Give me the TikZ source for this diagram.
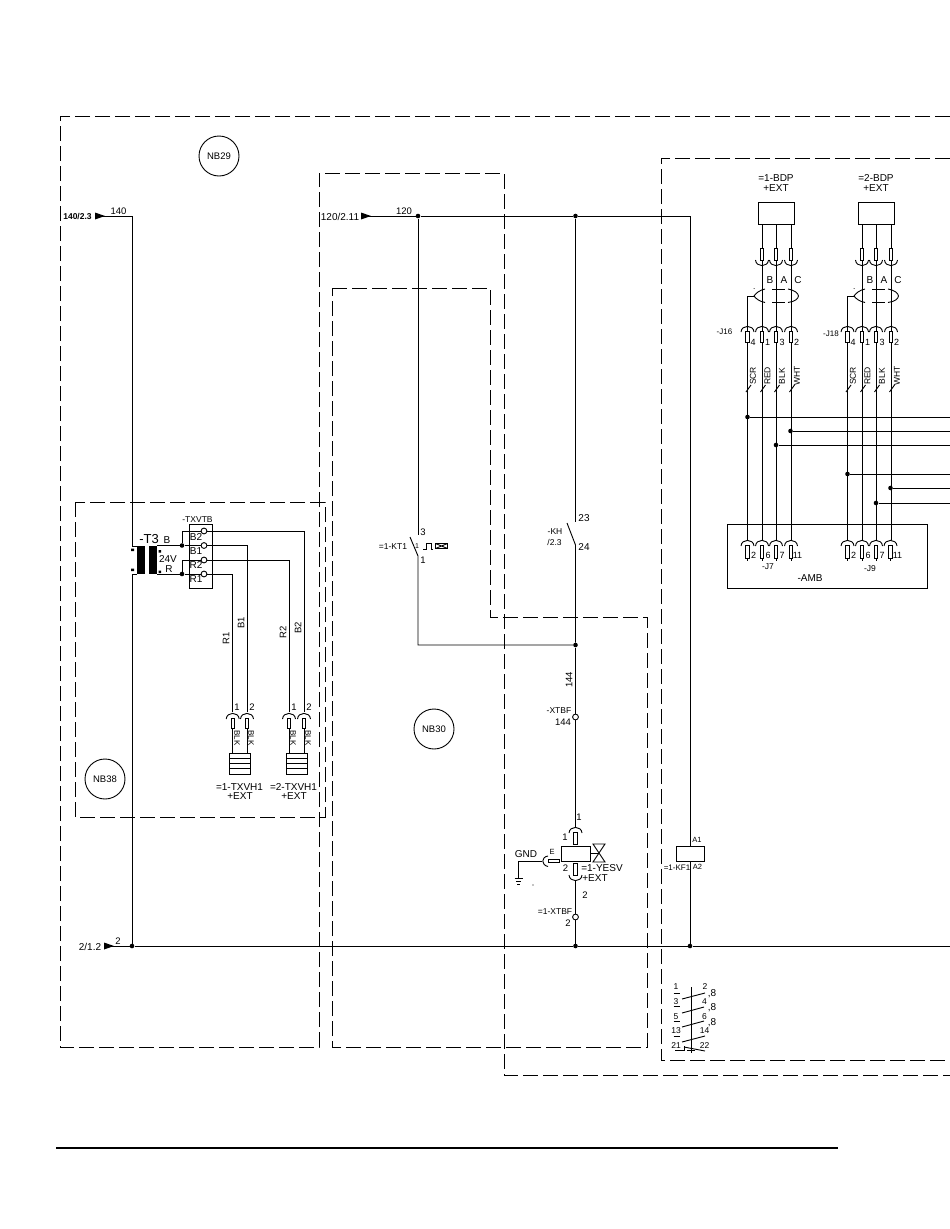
\documentclass[tikz,border=0pt]{standalone}
\usepackage{fontspec}
\setmainfont{Liberation Sans}
\newcommand{\fsz}[1]{\fontsize{#1}{#1}\selectfont}
% plug: arc open downward with pin under it
\newcommand{\plugD}[3]{% x, arc top y, pin bottom y
  \draw[wire] ({#1-6.5},{#2+6}) .. controls ({#1-6},{#2-1.5}) and ({#1+6},{#2-1.5}) .. ({#1+6.5},{#2+6});
  \draw[wire,fill=white] ({#1-1.6},{#2+5.5}) rectangle ({#1+1.6},#3);}
% plug: arc open upward with pin above it
\newcommand{\plugU}[3]{% x, arc bottom y, pin top y
  \draw[wire] ({#1-6.5},{#2-6}) .. controls ({#1-6},{#2+1.5}) and ({#1+6},{#2+1.5}) .. ({#1+6.5},{#2-6});
  \draw[wire,fill=white] ({#1-1.6},#3) rectangle ({#1+1.6},{#2-6});}
\begin{document}
\begin{tikzpicture}[x=1pt,y=-1pt,
  wire/.style={line width=0.9pt,black},
  dashbox/.style={line width=0.9pt,black,dash pattern=on 15pt off 5pt},
  dot/.style={circle,fill=black,draw=none,inner sep=0pt,minimum size=4.6pt},
  term/.style={circle,fill=white,draw=black,line width=0.9pt,inner sep=0pt,minimum size=5.8pt},
  lab/.style={inner sep=0pt,font=\fsz{10}},
  sm/.style={inner sep=0pt,font=\fsz{8.5}},
  num/.style={inner sep=0pt,font=\fsz{9.5}},
  pn/.style={inner sep=0pt,font=\fsz{9}},
  rot/.style={inner sep=0pt,font=\fsz{9.5},rotate=90},
  rotd/.style={inner sep=0pt,font=\fsz{8},rotate=-90},
  nb/.style={circle,draw=black,line width=0.9pt,minimum size=40pt,inner sep=0pt,font=\fsz{9.5}},
  flag/.style={fill=black,draw=none}]
\useasboundingbox (0,0) rectangle (950,1229);
\fill[white] (0,0) rectangle (950,1229);

% dashed boundaries
\draw[dashbox] (950,116) -- (60,116) -- (60,1047) -- (319,1047) -- (319,173) -- (504,173) -- (504,1075) -- (950,1075);
\draw[dashbox] (332,288) -- (490,288) -- (490,617) -- (647,617) -- (647,1047) -- (332,1047) -- cycle;
\draw[dashbox] (75,502) rectangle (325,817);
\draw[dashbox] (950,158) -- (661,158) -- (661,1060) -- (950,1060);

% numbered circles
\node[nb] (nb29) at (219,156) {NB29};
\node[nb] (nb30) at (434,729) {NB30};
\node[nb] (nb38) at (105,779) {NB38};

% main junctions
\coordinate (in140) at (95,216);
\coordinate (c140) at (132,216);
\coordinate (in120) at (361,216);
\coordinate (in2) at (104,946);
\coordinate (end2) at (950,946);
\node[dot] (j418) at (418,216) {};
\node[dot] (j575) at (575.5,216) {};
\coordinate (c690) at (690,216);
\node[dot] (j132) at (132,946) {};
\node[dot] (j575b) at (575.5,946) {};
\node[dot] (j690b) at (690,946) {};
\node[dot] (j645) at (575.5,645) {};
\coordinate (c418) at (418,645);

\fill[flag] (95,212.5) -- (105,216) -- (95,219.5) -- cycle;
\fill[flag] (361,212.5) -- (371,216) -- (361,219.5) -- cycle;
\fill[flag] (104,942.5) -- (114,946) -- (104,949.5) -- cycle;
\draw[wire] (in140) -- (c140) -- (132,546) -- (137,546);
\draw[wire] (137,574) -- (132,574) -- (j132);
\draw[wire] (in120) -- (j418) -- (j575) -- (c690);
\draw[wire] (in2) -- (j132) -- (j575b) -- (j690b) -- (end2);

% KT1 contact branch
\coordinate (kt3) at (418,535);
\coordinate (kt1) at (418,556);
\draw[wire] (j418) -- (kt3);
\draw[wire] (410,537) -- (kt1) -- (c418) -- (j645);
% KH contact branch
\coordinate (kh23) at (575.5,522);
\coordinate (kh24) at (575.5,545);
\draw[wire] (j575) -- (kh23);
\draw[wire] (567,523) -- (kh24) -- (j645);
% solenoid column
\node[term] (xtbf144) at (575.5,717) {};
\node[draw=black,line width=0.9pt,fill=white,minimum width=29pt,minimum height=15pt,inner sep=0pt] (yesv) at (575.5,853.5) {};
\node[term] (xtbf2) at (575.5,917) {};
\draw[wire] (j645) -- (xtbf144);
\draw[wire] (xtbf144) -- (575.5,828);
\plugD{575.5}{827}{844}
\plugU{575.5}{881}{863}
\draw[wire] (575.5,881) -- (xtbf2) -- (j575b);
% valve
\draw[wire] (yesv.east) -- (599,853.5);
\draw[wire] (593,844) -- (605,844) -- (593,862) -- (605,862) -- cycle;
% earth
\draw[wire,fill=white] (548,859.5) rectangle (559,862);
\draw[wire] (548,856) .. controls (541,857) and (541,865) .. (548,866.5);
\draw[wire] (542,861) -- (518,861) -- (518,878);
\draw[wire] (514.5,878) -- (522.5,878) (516,881) -- (521,881) (517,884) -- (520,884);
\fill (533,885) circle (0.6);

% KF1 coil
\node[draw=black,line width=0.9pt,minimum width=28pt,minimum height=15pt,inner sep=0pt] (kf1) at (690,853.5) {};
\draw[wire] (c690) -- (kf1.north);
\draw[wire] (kf1.south) -- (j690b);

% Transformer
\fill (137,546) rectangle (145,574);
\fill (149,546) rectangle (157,574);
\fill (131,548.5) rectangle (134,551) (131,568.5) rectangle (134,571);
\fill (158.5,550) rectangle (161,552.5) (158.5,570.5) rectangle (161,573);
\node[draw=black,line width=0.9pt,minimum width=23pt,minimum height=64pt,inner sep=0pt] (txvtb) at (200.5,556) {};
\node[term] (tb2) at (204,531) {};
\node[term] (tb1) at (204,545.5) {};
\node[term] (tr2) at (204,560) {};
\node[term] (tr1) at (204,574) {};
\node[dot] (jb) at (182,545.5) {};
\node[dot] (jr) at (182,574) {};
\draw[wire] (157,545.5) -- (jb) -- (tb1);
\draw[wire] (157,574) -- (jr) -- (tr1);
\draw[wire] (jb) |- (tb2);
\draw[wire] (jr) |- (tr2);
\draw[wire] (tb2) -- (304,531) -- (304,712);
\draw[wire] (tb1) -- (247,545.5) -- (247,712);
\draw[wire] (tr2) -- (289,560) -- (289,712);
\draw[wire] (tr1) -- (232.7,574) -- (232.7,712);
\foreach \xx in {232.7,247,289,304}{\plugD{\xx}{713}{728}\draw[wire] (\xx,728) -- (\xx,753);}
% heaters
\foreach \xx in {229,286}{
  \draw[wire] (\xx,753) rectangle ({\xx+21},774);
  \draw[line width=1.8pt] (\xx,753.5) -- ({\xx+21},753.5);
  \foreach \yy in {758.5,763.5,768.5}{\draw[line width=0.7pt] (\xx,\yy) -- ({\xx+21},\yy);}
}

% BDP boxes and cables
\node[draw=black,line width=0.9pt,minimum width=36pt,minimum height=22pt,inner sep=0pt] (bdp1) at (776,213) {};
\node[draw=black,line width=0.9pt,minimum width=36pt,minimum height=22pt,inner sep=0pt] (bdp2) at (876,213) {};
\foreach \dx in {0,100}{
  \foreach \xx in {762,776,791}{
    \draw[wire] ({\xx+\dx},224) -- ({\xx+\dx},540);
    \plugU{\xx+\dx}{266}{248}
  }
  % screen: broken ellipse with a drain wire
  \draw[wire] ({765+\dx},289) .. controls ({760+\dx},290) and ({756+\dx},293) .. ({754+\dx},296)
              .. controls ({756+\dx},299) and ({760+\dx},301.5) .. ({765+\dx},302.5);
  \draw[wire] ({772+\dx},289) -- ({785+\dx},289) ({772+\dx},302.5) -- ({785+\dx},302.5);
  \draw[wire] ({788+\dx},289) .. controls ({795+\dx},290.5) and ({798+\dx},293) .. ({798.5+\dx},296)
              .. controls ({798+\dx},299) and ({795+\dx},301.5) .. ({788+\dx},302.5);
  \draw[wire] ({754+\dx},296) -- ({747.5+\dx},296) -- ({747.5+\dx},540);
  \fill ({754+\dx},288.5) circle (0.5);
  \foreach \xx in {747.5,762,776,791}{
    \plugD{\xx+\dx}{326}{342}
    \draw[wire] ({\xx+\dx-1.5},392) -- ({\xx+\dx+3.5},385);
  }
}
% buses
\node[dot] (b1) at (747.5,417) {};
\node[dot] (b2) at (790.5,431) {};
\node[dot] (b3) at (776,445) {};
\node[dot] (b4) at (847.5,474) {};
\node[dot] (b5) at (890.5,488) {};
\node[dot] (b6) at (876,503) {};
\foreach \n/\yy in {b1/417,b2/431,b3/445,b4/474,b5/488,b6/503}{
  \coordinate (e\n) at (950,\yy);
  \draw[wire] (\n) -- (e\n);
}
% AMB
\node[draw=black,line width=0.9pt,minimum width=200pt,minimum height=64pt,inner sep=0pt] (amb) at (827,556) {};
\foreach \xx in {747.5,762,776,791,847.5,862,876,890.5}{
  \plugD{\xx}{540}{558}
  \draw[wire] (\xx,558) -- (\xx,561);
}

% contacts block
\draw[wire] (691,987) -- (691,1053);
\draw[wire] (673.5,993) -- (680,993) (673.5,1006) -- (680,1006) (673.5,1021) -- (680,1021) (673.5,1036) -- (680,1036);
\draw[wire] (682,999) -- (705,993) (682,1013) -- (704,1007) (682,1027) -- (704,1021) (682,1042) -- (705,1036);
\draw[wire] (675,1050) -- (684,1050) -- (684,1046);
\draw[wire] (684,1047) -- (705,1051);
\draw[wire] (687,1050) -- (695,1050);

% left labels
\node[inner sep=0pt,font=\fsz{8.5}\bfseries] (l140a) at (77.5,216.5) {140/2.3};
\node[num] (l140) at (118.5,211) {140};
\node[lab] (l120a) at (340,216.5) {120/2.11};
\node[num] (l120) at (404,211) {120};
\node[lab] (l2a) at (90,946.5) {2/1.2};
\node[num] (l2) at (118,941) {2};

% T3 block labels
\node[inner sep=0pt,font=\fsz{13}] (lt3) at (149,539) {-T3};
\node[lab] (lb) at (167,540) {B};
\node[lab] (l24) at (168,559.5) {24V};
\node[lab] (lr) at (169,569) {R};
\node[sm] (ltx) at (197.5,519.5) {-TXVTB};
\node[lab] (lb2) at (196,537) {B2};
\node[lab] (lb1) at (196,551.5) {B1};
\node[lab] (lr2) at (196,565) {R2};
\node[lab] (lr1) at (196,579.5) {R1};
\node[rot] (wr1) at (226,638) {R1};
\node[rot] (wb1) at (241,623) {B1};
\node[rot] (wr2) at (283,632) {R2};
\node[rot] (wb2) at (298,628) {B2};
\node[num] (p1a) at (237,707) {1};
\node[num] (p2a) at (252,707) {2};
\node[num] (p1b) at (294,707) {1};
\node[num] (p2b) at (309,707) {2};
\node[rotd] (k1) at (237,738) {BLK};
\node[rotd] (k2) at (251,738) {BLK};
\node[rotd] (k3) at (293,738) {BLK};
\node[rotd] (k4) at (308,738) {BLK};
\node[lab] (h1) at (239.5,787) {=1-TXVH1};
\node[lab] (h1e) at (240,796.5) {+EXT};
\node[lab] (h2) at (293.5,787) {=2-TXVH1};
\node[lab] (h2e) at (294,796.5) {+EXT};

% contacts labels
\node[num] (k3t) at (423,532) {3};
\node[sm] (lkt) at (393,546.5) {=1-KT1};
\node[inner sep=0pt,font=\fsz{7}] (k1m) at (417,546) {1};
\draw[wire] (423,549) -- (426,549) -- (426,543) -- (431,543) -- (431,549) -- (433,549);
\node[draw=black,line width=0.9pt,minimum width=12pt,minimum height=5pt,inner sep=0pt,
  path picture={\draw[line width=0.9pt] (path picture bounding box.north west) -- (path picture bounding box.south east) (path picture bounding box.south west) -- (path picture bounding box.north east);}] (timer) at (441.5,546) {};
\node[num] (k1b) at (423,560) {1};
\node[lab] (k23) at (584,518) {23};
\node[sm] (lkh) at (555,532) {-KH};
\node[sm] (lkh2) at (554.5,542) {/2.3};
\node[lab] (k24) at (584,546.5) {24};
\node[num,rotate=90] (w144) at (569,680) {144};
\node[sm] (lxt) at (559,711) {-XTBF};
\node[num] (lxt2) at (563,722) {144};

% solenoid labels
\node[num] (s1a) at (579,817) {1};
\node[num] (s1b) at (565,837) {1};
\node[inner sep=0pt,font=\fsz{7.5}] (se) at (552,852) {E};
\node[num] (s2a) at (565.5,868.5) {2};
\node[lab] (lyes) at (602,868.5) {=1-YESV};
\node[lab] (lyex) at (595,878.5) {+EXT};
\node[num] (s2b) at (585,895) {2};
\node[lab] (lgnd) at (526,854.5) {GND};
\node[sm] (lxb) at (555,912) {=1-XTBF};
\node[num] (lxb2) at (568,923) {2};
\node[inner sep=0pt,font=\fsz{7.5}] (la1) at (697,840) {A1};
\node[inner sep=0pt,font=\fsz{7.5}] (la2) at (697.5,867) {A2};
\node[inner sep=0pt,font=\fsz{8}] (lkf) at (677,867.5) {=1-KF1};

% BDP labels
\node[lab] (d1) at (776,178.5) {=1-BDP};
\node[lab] (d1e) at (776,188.5) {+EXT};
\node[lab] (d2) at (876,178.5) {=2-BDP};
\node[lab] (d2e) at (876,188.5) {+EXT};
\foreach \dx/\nm in {0/a,100/b}{
  \node[lab] (cB\nm) at ({770+\dx},280) {B};
  \node[lab] (cA\nm) at ({784+\dx},280) {A};
  \node[lab] (cC\nm) at ({798+\dx},280) {C};
  \node[sm,rotate=90] (scr\nm) at ({753+\dx},376) {SCR};
  \node[sm,rotate=90] (red\nm) at ({767.5+\dx},376) {RED};
  \node[sm,rotate=90] (blk\nm) at ({782+\dx},376) {BLK};
  \node[sm,rotate=90] (wht\nm) at ({797+\dx},376) {WHT};
  \node[pn] (n4\nm) at ({753+\dx},342.5) {4};
  \node[pn] (n1\nm) at ({767.5+\dx},342.5) {1};
  \node[pn] (n3\nm) at ({782+\dx},342.5) {3};
  \node[pn] (n2\nm) at ({796.5+\dx},342.5) {2};
  \node[pn] (q2\nm) at ({753.5+\dx},555) {2};
  \node[pn] (q6\nm) at ({768+\dx},555) {6};
  \node[pn] (q7\nm) at ({782+\dx},555) {7};
  \node[pn] (q11\nm) at ({797.5+\dx},555) {11};
}
\node[inner sep=0pt,font=\fsz{8}] (j16) at (724.5,331.5) {-J16};
\node[inner sep=0pt,font=\fsz{8}] (j18) at (831,334) {-J18};
\node[sm] (j7) at (768,567) {-J7};
\node[sm] (j9) at (870,569) {-J9};
\node[lab] (lamb) at (810,578.5) {-AMB};

% contact block labels
\node[sm] (c1) at (676,987) {1};
\node[sm] (c2) at (705,987) {2};
\node[sm] (c3) at (676,1002) {3};
\node[sm] (c4) at (704.5,1002) {4};
\node[sm] (c5) at (676,1017) {5};
\node[sm] (c6) at (704.5,1017) {6};
\node[sm] (c13) at (676,1031) {13};
\node[sm] (c14) at (704.5,1031) {14};
\node[sm] (c21) at (676,1046) {21};
\node[sm] (c22) at (704.5,1046) {22};
\node[lab] (r1) at (712,993.5) {,8};
\node[lab] (r2) at (712,1008) {,8};
\node[lab] (r3) at (712,1022.5) {,8};

% bottom rule
\coordinate (ruleA) at (56,1148);
\coordinate (ruleB) at (838,1148);
\draw[line width=1.8pt] (ruleA) -- (ruleB);
\end{tikzpicture}
\end{document}
